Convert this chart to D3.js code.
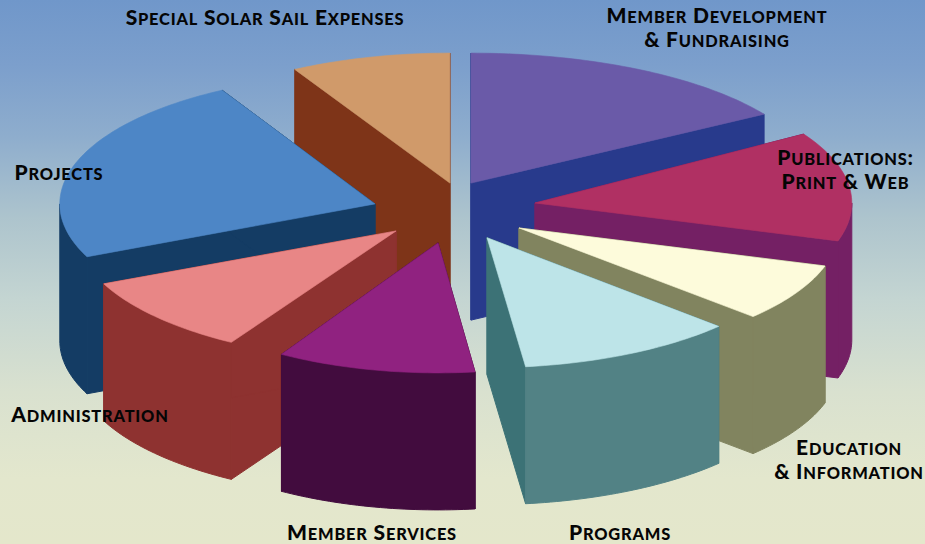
<!DOCTYPE html>
<html><head><meta charset="utf-8">
<script src="https://cdn.jsdelivr.net/npm/d3@7"></script>
<style>html,body{margin:0;padding:0;background:#e4e7cc}svg{display:block}</style>
</head><body><svg id="c" width="925" height="544"></svg>
<script>
// Data (slice sizes in degrees of the pie)
const categories = ["Member Development & Fundraising","Publications: Print & Web","Education & Information","Programs","Member Services","Administration","Projects","Special Solar Sail Expenses"];
const values = [58,49,26,40,38,35,85,29];
// Explosion of each slice and its horizontal stretch, in fractions of the pie radius
const explodeX = [.05,.25,.2,.1,-.053,-.184,-.25,-.016];
const explodeY = [-.13,.023,.215,.29,.33,.238,.03,-.13];
const stretchX = [1.08,.99,1,.99,.95,1,.985,1];
const topColors  = ["#6a5aa8","#b03063","#fdfbdb","#bde4e8","#902280","#e88686","#4d86c6","#d09a6a"];
const wallColors = ["#283a8c","#742064","#81845f","#528285","#420c3e","#8e3230","#143c64","#7e3418"];
const cutColors  = ["#283a8c","#742064","#81845f","#3c7276","#420c3e","#8e3230","#143c64","#7e3418"];
const paintOrder = [7,6,0,1,2,5,3,4];
const labelLines = [["Member Development","& Fundraising"],["Publications:","Print & Web"],["Education","& Information"],["Programs"],["Member Services"],["Administration"],["Projects"],["Special Solar Sail Expenses"]];
const labelX = [717,845.5,849,620,372,90,59,265];
const labelY = [23,165,455,540,540,422,180,25];
const bgStops = [[0,"#7097ca"],[.12,"#7c9fcc"],[.25,"#8eadcd"],[.4,"#adc4cd"],[.55,"#c4d5d2"],[.72,"#d9e1cf"],[.88,"#e3e7cd"],[1,"#e4e7cb"]];

const W=925,H=544, depth=137;
const svg=d3.select("#c");
const defs=svg.append("defs");
const g=defs.append("linearGradient").attr("id","bg").attr("x1",0).attr("x2",0).attr("y1",0).attr("y2",1);
g.selectAll("stop").data(bgStops).join("stop").attr("offset",d=>d[0]).attr("stop-color",d=>d[1]);
svg.append("rect").attr("width",W).attr("height",H).attr("fill","url(#bg)");

const x=d3.scaleLinear().domain([-1,1]).range([455-320,455+320]);
const y=d3.scaleLinear().domain([-1,1]).range([200-130,200+130]);
const arcs=d3.pie().sort(null).value(d=>d).startAngle(0).endAngle(2*Math.PI)(values);
const line=d3.line().x(d=>d[0]).y(d=>d[1]);
const rim=(i,a)=>[x(explodeX[i]+stretchX[i]*Math.sin(a)),y(explodeY[i]-Math.cos(a))];
const apex=i=>[x(explodeX[i]),y(explodeY[i])];
const down=p=>[p[0],p[1]+depth];
function sweep(a0,a1){const n=Math.max(2,Math.ceil((a1-a0)/0.02));return d3.range(n+1).map(k=>a0+(a1-a0)*k/n);}

const chart=svg.append("g");
paintOrder.forEach(i=>{
  const a=arcs[i], A=apex(i), S=rim(i,a.startAngle), E=rim(i,a.endAngle);
  const s=chart.append("g");
  [[S,A,down(A),down(S)],[A,E,down(E),down(A)]].forEach(f=>{
    s.append("path").attr("d",line(f)+"Z").attr("fill",cutColors[i]).attr("stroke",cutColors[i]).attr("stroke-width",1);
  });
  const a0=Math.max(a.startAngle,Math.PI/2), a1=Math.min(a.endAngle,3*Math.PI/2);
  if(a1>a0){
    const r=sweep(a0,a1).map(t=>rim(i,t));
    s.append("path").attr("d",line(r.concat(r.map(down).reverse()))+"Z").attr("fill",wallColors[i]).attr("stroke",wallColors[i]).attr("stroke-width",1);
  }
  const t=[A].concat(sweep(a.startAngle,a.endAngle).map(u=>rim(i,u)));
  s.append("path").attr("d",line(t)+"Z").attr("fill",topColors[i]).attr("stroke",topColors[i]).attr("stroke-width",.6);
});

const lab=svg.append("g").attr("font-family","Lato, 'Open Sans', sans-serif").attr("font-weight",900).attr("font-size",21).attr("fill","#050505").attr("text-anchor","middle");
labelLines.forEach((lines,i)=>{
  lines.forEach((str,k)=>{
    const tx=lab.append("text").attr("x",labelX[i]).attr("y",labelY[i]+k*23.5).attr("letter-spacing",.8);
    (str.match(/[^a-z]+|[a-z]+/g)||[]).forEach(run=>{
      const low=/^[a-z]/.test(run);
      tx.append("tspan").text(run).attr("font-size",low?16.4:21).style("text-transform",low?"uppercase":"none");
    });
  });
});
</script></body></html>
